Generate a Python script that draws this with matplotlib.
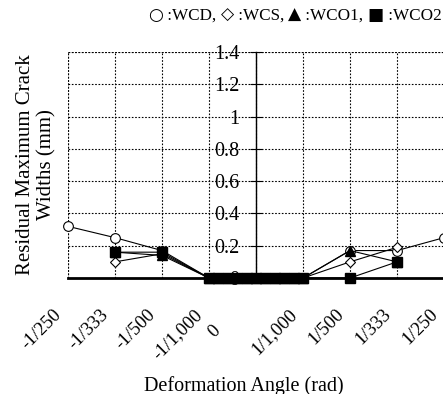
import matplotlib
matplotlib.use("Agg")
import matplotlib.pyplot as plt
from matplotlib.transforms import ScaledTranslation

plt.rcParams['font.family'] = ['Liberation Serif', 'DejaVu Sans']

# Data (x in category-position units: -4 = -1/250 ... 4 = 1/250)
x_wcd = [-4, -3, -2, -1.0, -0.8, -0.6, -0.4, -0.2, 0.0, 0.2, 0.4, 0.6, 0.8, 1.0, 2, 3, 4]
y_wcd = [0.32, 0.25, 0.17, 0, 0, 0, 0, 0, 0, 0, 0, 0, 0, 0, 0.17, 0.17, 0.25]

x_other = [-3, -2, -1.0, -0.8, -0.6, -0.4, -0.2, 0.0, 0.2, 0.4, 0.6, 0.8, 1.0, 2, 3]
y_wcs = [0.10, 0.15, 0, 0, 0, 0, 0, 0, 0, 0, 0, 0, 0, 0.10, 0.19]
y_wco1 = [0.16, 0.14, 0, 0, 0, 0, 0, 0, 0, 0, 0, 0, 0, 0.17, 0.10]
y_wco2 = [0.16, 0.16, 0, 0, 0, 0, 0, 0, 0, 0, 0, 0, 0, 0.00, 0.10]

tick_pos = [-4, -3, -2, -1, 0, 1, 2, 3, 4]
tick_labels = ['-1/250', '-1/333', '-1/500', '-1/1,000', '0',
               '1/1,000', '1/500', '1/333', '1/250']
y_ticks = [0, 0.2, 0.4, 0.6, 0.8, 1, 1.2, 1.4]
y_tick_labels = ['0', '0.2', '0.4', '0.6', '0.8', '1', '1.2', '1.4']

legend_symbols = ['\u25CB', '\u25C7', '\u25B2', '\u25A0']
legend_names = ['WCD', 'WCS', 'WCO1', 'WCO2']

fig = plt.figure(figsize=(4.43, 3.94), dpi=100)
ax = fig.add_axes([0.1535, 0.2944, 0.8488, 0.5736])

lw = 0.8
ax.plot(x_wcd, y_wcd, color='black', lw=lw, marker='o', ms=7,
        mfc='white', mec='black', mew=0.8, clip_on=False, zorder=3)
ax.plot(x_other, y_wcs, color='black', lw=lw, marker='D', ms=5.5,
        mfc='white', mec='black', mew=0.8, clip_on=False, zorder=4)
ax.plot(x_other, y_wco1, color='black', lw=lw, marker='^', ms=7,
        mfc='black', mec='black', clip_on=False, zorder=5)
ax.plot(x_other, y_wco2, color='black', lw=lw, marker='s', ms=6.5,
        mfc='black', mec='black', clip_on=False, zorder=6)

ax.set_xlim(-4, 4)
ax.set_ylim(0, 1.4)

# spines: y axis through x=0, thick x axis at y=0
for s in ['top', 'right']:
    ax.spines[s].set_visible(False)
ax.spines['left'].set_position(('data', 0))
ax.spines['left'].set_linewidth(1.0)
ax.spines['bottom'].set_linewidth(2.0)
ax.spines['bottom'].set_zorder(2)

ax.set_xticks(tick_pos)
ax.set_xticklabels(tick_labels, rotation=45, ha='right', va='top',
                   rotation_mode='anchor', fontsize=13.5)
ax.tick_params(axis='x', length=0, pad=0)
# shift rotated labels down-left like the original layout
for lab in ax.get_xticklabels():
    if lab.get_text() == '0':
        off = ScaledTranslation(-0.44, -0.44, fig.dpi_scale_trans)
    else:
        off = ScaledTranslation(-0.15, -0.28, fig.dpi_scale_trans)
    lab.set_transform(lab.get_transform() + off)

ax.set_yticks(y_ticks)
ax.set_yticklabels(y_tick_labels, fontsize=14.5)
ax.tick_params(axis='y', direction='inout', length=8, width=0.8, pad=8)

# dotted grid, including the left and top borders
ax.grid(True, color='black', linestyle=(0, (1.5, 1.5)), linewidth=0.8)
ax.set_axisbelow(True)
ax.axvline(-4, color='black', linestyle=(0, (1.5, 1.5)), linewidth=0.8, zorder=1)
ax.axhline(1.4, color='black', linestyle=(0, (1.5, 1.5)), linewidth=0.8, zorder=1)

ax.set_ylabel('Residual Maximum Crack\nWidths (mm)', fontsize=15, linespacing=1.15)
ax.yaxis.set_label_coords(-0.03, 0.5)
ax.set_xlabel('Deformation Angle (rad)', fontsize=14.5)
ax.xaxis.set_label_coords(0.468, -0.432)

# legend line at the top: symbols in DejaVu Sans, names in serif
renderer = fig.canvas.get_renderer()
x_px = 148
base_y = 0.95
for i, (sym, name) in enumerate(zip(legend_symbols, legend_names)):
    sep = ', ' if i < len(legend_names) - 1 else ''
    for s, fam in [(sym, 'DejaVu Sans'), (' :' + name + sep, 'Liberation Serif')]:
        t = fig.text(x_px / 443, base_y, s, family=fam, fontsize=12.3,
                     ha='left', va='baseline')
        x_px += t.get_window_extent(renderer).width

fig.savefig('out.png', dpi=100)
